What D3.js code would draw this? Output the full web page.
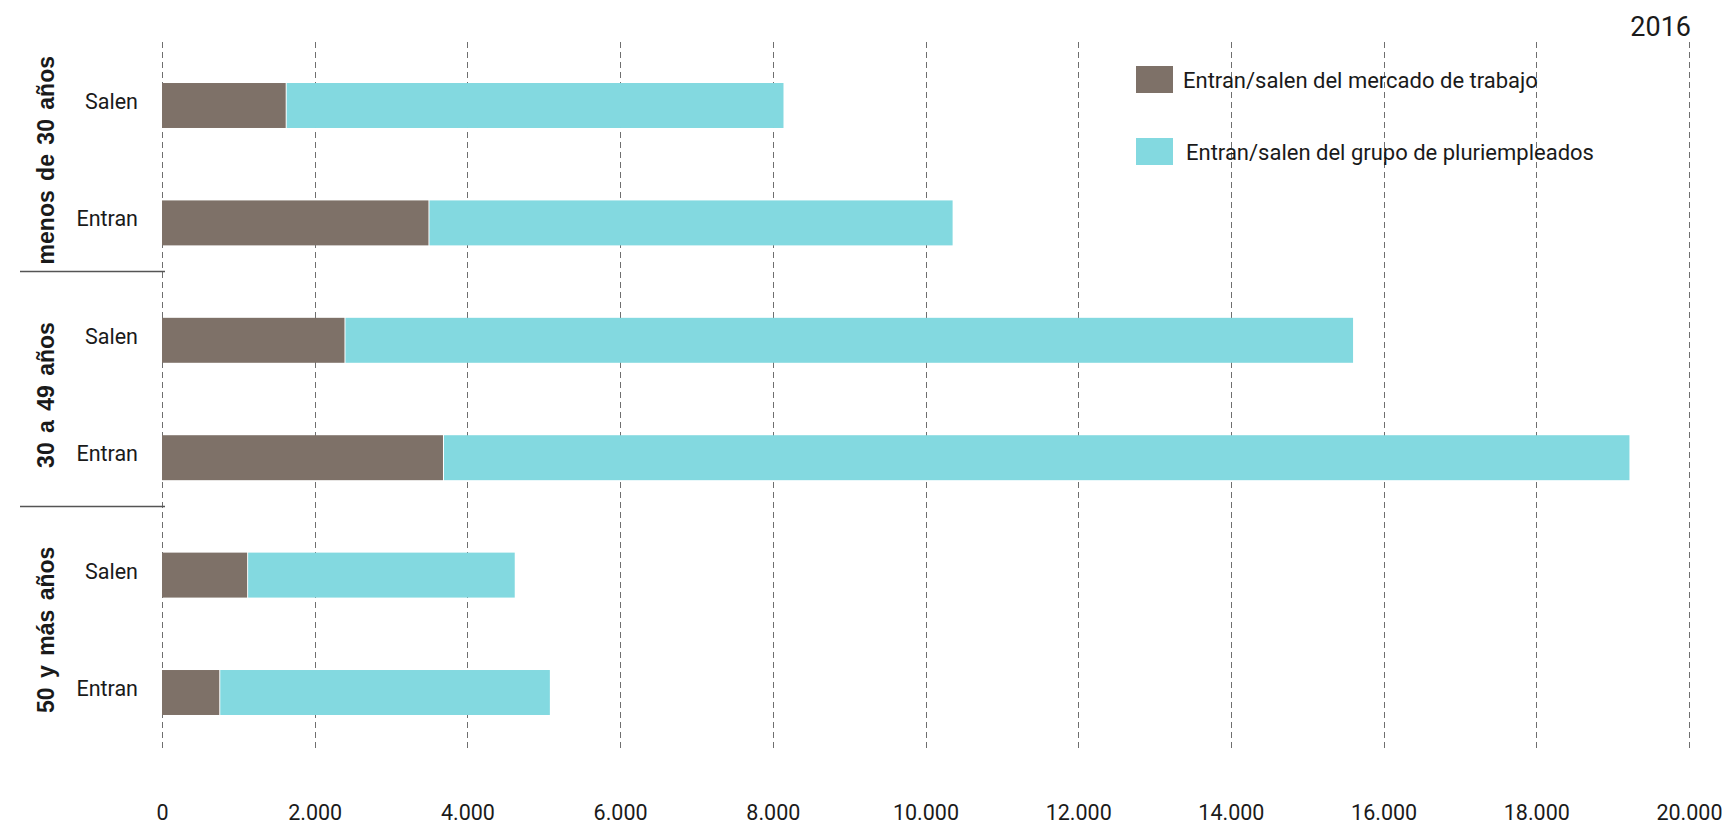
<!DOCTYPE html>
<html>
<head>
<meta charset="utf-8">
<script src="https://cdn.jsdelivr.net/npm/d3@7"></script>
<style>
  body { margin: 0; background: #fff; }
  svg { display: block; font-family: "Roboto", "Liberation Sans", sans-serif; }
  .grid line { stroke: #6f6f6f; stroke-dasharray: 6,4; stroke-width: 1; }
  .axis--x .domain, .axis--x line { display: none; }
  .axis--x text { font-size: 21.5px; fill: #1a1a1a; font-family: "Roboto", sans-serif; }
  .row-label { font-size: 21.5px; fill: #1a1a1a; }
  .group-label { font-size: 23px; font-weight: bold; fill: #1a1a1a; font-family: "Liberation Sans", "Arial", sans-serif; word-spacing: 3px; }
  .legend text { font-size: 22px; fill: #1a1a1a; }
</style>
</head>
<body>
<div class="chart"></div>
<script>
// datos
var groups = ["menos de 30 años", "30 a 49 años", "50 y más años"]
var rowTypes = ["Salen", "Entran"]
var mercado = [1620, 3490, 2390, 3680, 1115, 750]
var pluri = [6520, 6865, 13210, 15540, 3505, 4330]
var ticks = [0, 2000, 4000, 6000, 8000, 10000, 12000, 14000, 16000, 18000, 20000]
var seriesNames = ["Entran/salen del mercado de trabajo", "Entran/salen del grupo de pluriempleados"]
var colors = ["#7e7168", "#83d9e0"]
var year = "2016"

var rows = []
groups.forEach(function (g, gi) {
	rowTypes.forEach(function (t, ti) {
		var i = gi * 2 + ti
		rows.push({ key: g + "|" + t, group: g, type: t, mercado: mercado[i], pluri: pluri[i] })
	})
})

var W = 1733, H = 830

var svg = d3.select(".chart").append("svg")
	.attr("width", W)
	.attr("height", H)

var x = d3.scaleLinear()
	.domain([0, 20000])
	.range([162, 1689])

var y = d3.scaleBand()
	.domain(rows.map(r => r.key))
	.range([46.8, 751.2])
	.paddingInner(0.617)
	.paddingOuter(0.3085)

var locale = d3.formatLocale({ decimal: ",", thousands: ".", grouping: [3], currency: ["", "€"] })
var fmt = locale.format(",")

// lineas de cuadricula
svg.append("g")
	.attr("class", "grid")
	.selectAll("line")
	.data(ticks)
	.enter().append("line")
	.attr("x1", d => Math.round(x(d)) + 0.5)
	.attr("x2", d => Math.round(x(d)) + 0.5)
	.attr("y1", 42)
	.attr("y2", 752)

// barras apiladas
var bars = svg.append("g")
bars.selectAll(".bar-mercado")
	.data(rows)
	.enter().append("rect")
	.attr("class", "bar-mercado")
	.attr("x", x(0))
	.attr("y", d => y(d.key))
	.attr("width", d => x(d.mercado) - x(0))
	.attr("height", y.bandwidth())
	.attr("fill", colors[0])

bars.selectAll(".bar-pluri")
	.data(rows)
	.enter().append("rect")
	.attr("class", "bar-pluri")
	.attr("x", d => x(d.mercado) + 1)
	.attr("y", d => y(d.key))
	.attr("width", d => x(d.mercado + d.pluri) - x(d.mercado) - 1)
	.attr("height", y.bandwidth())
	.attr("fill", colors[1])

// eje x
svg.append("g")
	.attr("class", "axis axis--x")
	.attr("transform", "translate(0,805)")
	.call(d3.axisBottom(x).tickValues(ticks).tickFormat(fmt).tickSize(0).tickPadding(0))

// etiquetas de fila
svg.selectAll(".row-label")
	.data(rows)
	.enter().append("text")
	.attr("class", "row-label")
	.attr("x", 138)
	.attr("y", d => y(d.key) + y.bandwidth() / 2 - 4)
	.attr("dy", "0.35em")
	.attr("text-anchor", "end")
	.text(d => d.type)

// etiquetas de grupo (rotadas)
svg.selectAll(".group-label")
	.data(groups)
	.enter().append("text")
	.attr("class", "group-label")
	.attr("transform", function (g) {
		var a = y(g + "|" + rowTypes[0]), b = y(g + "|" + rowTypes[1]) + y.bandwidth()
		return "translate(46," + ((a + b) / 2 - 4) + ") rotate(-90)"
	})
	.attr("dy", "0.35em")
	.attr("text-anchor", "middle")
	.text(d => d)

// separadores entre grupos
function sepY(g) {
	var prev = groups[groups.indexOf(g) - 1]
	var lo = y(prev + "|" + rowTypes[1]) + y.bandwidth(), hi = y(g + "|" + rowTypes[0])
	return Math.round(lo + (hi - lo) * 0.36) + 0.5
}
svg.selectAll(".sep")
	.data(groups.slice(1))
	.enter().append("line")
	.attr("class", "sep")
	.attr("x1", 20)
	.attr("x2", 165)
	.attr("y1", sepY)
	.attr("y2", sepY)
	.attr("stroke", "#555")
	.attr("stroke-width", 1.5)

// leyenda
var legend = svg.append("g").attr("class", "legend")
var items = legend.selectAll("g")
	.data(seriesNames)
	.enter().append("g")
	.attr("transform", (d, i) => "translate(1136," + (66 + i * 72) + ")")
items.append("rect")
	.attr("width", 37)
	.attr("height", 27)
	.attr("fill", (d, i) => colors[i])
items.append("text")
	.attr("x", (d, i) => 47 + i * 3)
	.attr("y", 14)
	.attr("dy", "0.35em")
	.text(d => d)

// año
svg.append("text")
	.attr("x", 1691)
	.attr("y", 27)
	.attr("dy", "0.35em")
	.attr("text-anchor", "end")
	.style("font-size", "27px")
	.style("fill", "#1a1a1a")
	.text(year)
</script>
</body>
</html>
